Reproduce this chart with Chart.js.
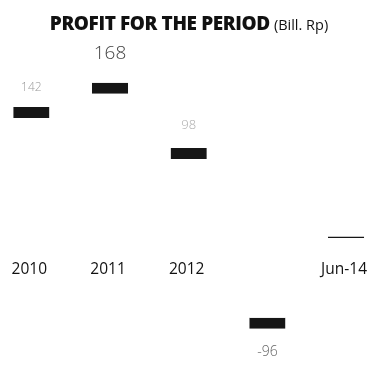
<html lang="en">
<head>
    <meta charset="UTF-8">
    <title>Profit for the period</title>
    <script src="https://cdn.jsdelivr.net/npm/chart.js"></script>
    <style>
        body { margin: 0; background: #fff; overflow: hidden; }
        #wrap { position: relative; width: 367px; height: 381px; overflow: hidden; }
        #title { position: absolute; top: 10px; left: 39px; width: 300px; text-align: center;
                 font-family: "Open Sans", sans-serif; color: #111; white-space: nowrap; }
        #title b { font-size: 19px; font-weight: 800; letter-spacing: -0.4px; }
        #title span { font-size: 14.5px; }
        #box { position: absolute; left: -8px; top: 0; width: 398px; height: 381px; }
    </style>
</head>
<body>
    <div id="wrap">
        <div id="box"><canvas id="profitChart"></canvas></div>
        <div id="title"><b>PROFIT FOR THE PERIOD</b> <span>(Bill. Rp)</span></div>
    </div>

    <script>
        // data
        const years = ['2010', '2011', '2012', '', 'Jun-14'];
        const profit = [142, 168, 98, -96, 3];
        const valueLabels = ['142', '168', '98', '-96', ''];

        // label look per bar (the scan is very uneven)
        const labelStyle = [
            { size: 12, color: '#9a9a9a', gap: 19 },
            { size: 19, color: '#444', gap: 26 },
            { size: 13, color: '#aaa', gap: 22 },
            { size: 14, color: '#666', gap: 16 },
            { size: 12, color: '#ccc', gap: 16 }
        ];

        const valueLabelPlugin = {
            id: 'valueLabels',
            afterDatasetsDraw(chart) {
                const ctx = chart.ctx;
                const meta = chart.getDatasetMeta(0);
                meta.data.forEach(function (bar, i) {
                    const st = labelStyle[i];
                    ctx.save();
                    ctx.font = '300 ' + st.size + 'px "Open Sans", sans-serif';
                    ctx.fillStyle = st.color;
                    ctx.textAlign = 'center';
                    if (profit[i] >= 0) {
                        ctx.textBaseline = 'bottom';
                        ctx.fillText(valueLabels[i], bar.x, bar.y - st.gap + 6);
                    } else {
                        ctx.textBaseline = 'top';
                        ctx.fillText(valueLabels[i], bar.x, bar.y + st.gap);
                    }
                    ctx.restore();
                });
            }
        };

        const ctx = document.getElementById('profitChart').getContext('2d');
        const profitChart = new Chart(ctx, {
            type: 'bar',
            data: {
                labels: years,
                datasets: [{
                    data: profit,
                    backgroundColor: '#ffffff',
                    borderColor: '#161616',
                    borderSkipped: false,
                    borderWidth: function (c) {
                        return c.raw >= 0 ? { top: 11, left: 0, right: 0, bottom: 0 }
                                          : { bottom: 11, left: 0, right: 0, top: 0 };
                    },
                    categoryPercentage: 1,
                    barPercentage: 0.46
                }]
            },
            options: {
                responsive: true,
                maintainAspectRatio: false,
                animation: false,
                layout: { padding: { top: 53, bottom: 2, left: 0, right: 0 } },
                plugins: {
                    legend: { display: false },
                    tooltip: { enabled: false }
                },
                scales: {
                    x: {
                        position: { y: 0 },
                        grid: { display: false, drawTicks: false },
                        border: { display: false },
                        ticks: {
                            color: '#111',
                            padding: 21,
                            labelOffset: -2,
                            font: { family: '"Open Sans", sans-serif', size: 15.5 }
                        }
                    },
                    y: {
                        display: false,
                        min: -150,
                        max: 200
                    }
                }
            },
            plugins: [valueLabelPlugin]
        });
    </script>
</body>
</html>
